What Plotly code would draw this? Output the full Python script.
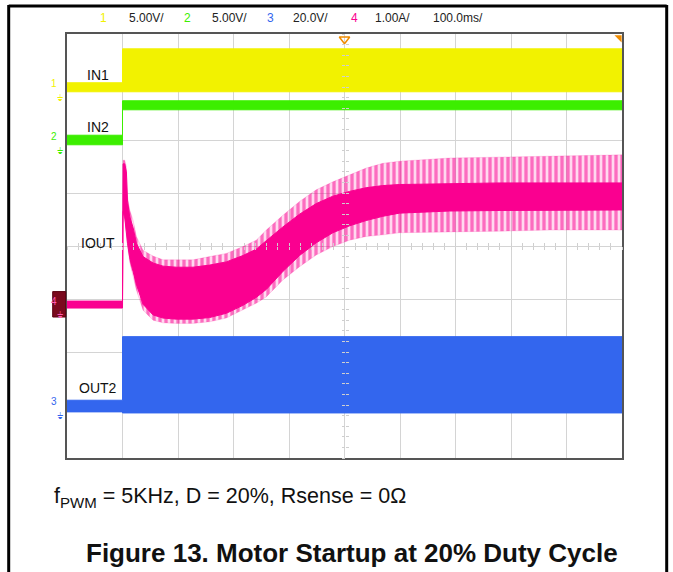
import plotly.graph_objects as go

# scope capture: x in ms (100 ms/div, 10 div), y in screen divisions (8 div)
t_step = [0, 100, 100, 1000]

in1_hi = [3.08, 3.08, 3.72, 3.72]
in1_lo = [2.91, 2.91, 2.91, 2.91]
in2_hi = [2.09, 2.09, 2.74, 2.74]
in2_lo = [1.91, 1.91, 2.57, 2.57]
out2_hi = [-2.91, -2.91, -1.71, -1.71]
out2_lo = [-3.13, -3.13, -3.15, -3.15]

t_iout = [0, 100, 101, 104, 107, 109, 113, 119, 125, 137, 155, 173, 197, 227, 257,
          287, 317, 341, 359, 389, 419, 449, 479, 509, 539, 569, 599, 689, 780, 870, 1000]
# ripple peaks (spiky envelope)
iout_peak_hi = [-1.04, -1.04, 1.62, 1.62, 1.50, 0.93, 0.68, 0.49, 0.18, -0.08, -0.19, -0.26,
                -0.26, -0.26, -0.20, -0.14, -0.01, 0.11, 0.30, 0.58, 0.84, 1.06, 1.21, 1.34,
                1.47, 1.56, 1.60, 1.66, 1.68, 1.70, 1.72]
iout_peak_lo = [-1.17, -1.17, 0.60, 0.50, 0.19, 0.00, -0.30, -0.57, -0.83, -1.21, -1.40, -1.45,
                -1.46, -1.46, -1.43, -1.36, -1.21, -1.08, -0.96, -0.64, -0.39, -0.17, -0.01,
                0.11, 0.18, 0.21, 0.25, 0.26, 0.28, 0.30, 0.30]
# solid body of the current trace
iout_body_hi = [-1.04, -1.04, 1.55, 1.55, 1.40, 0.85, 0.55, 0.35, 0.05, -0.20, -0.32, -0.38,
                -0.40, -0.40, -0.36, -0.30, -0.18, -0.06, 0.10, 0.36, 0.60, 0.80, 0.94, 1.03,
                1.10, 1.14, 1.16, 1.18, 1.19, 1.19, 1.19]
iout_body_lo = [-1.17, -1.17, 0.65, 0.55, 0.25, 0.05, -0.22, -0.48, -0.72, -1.10, -1.30, -1.36,
                -1.38, -1.38, -1.35, -1.27, -1.12, -0.97, -0.82, -0.48, -0.18, 0.06, 0.25, 0.38,
                0.48, 0.56, 0.62, 0.66, 0.67, 0.68, 0.68]

channels = ["1", "2", "3", "4"]
channel_offsets = [3.0, 2.0, -3.0, -1.1]
channel_scales = ["5.00V/", "5.00V/", "20.0V/", "1.00A/"]
timebase = "100.0ms/"

YELLOW = "#F2F200"
GREEN = "#3CEE00"
BLUE = "#3366EE"
PINK = "#FA0090"
colors = [YELLOW, GREEN, BLUE, PINK]

W, H = 673, 572
L, R, T, B = 67.3, 622.3, 34, 458


def px(x):
    return (x - L) / (R - L)


def py(y):
    return (B - y) / (B - T)


def band(t, hi, lo, color, **kw):
    return go.Scatter(
        x=t + t[::-1],
        y=hi + lo[::-1],
        mode="lines",
        fill="toself",
        fillcolor=color,
        line=dict(color=color, width=1),
        hoverinfo="skip",
        showlegend=False,
        **kw,
    )


fig = go.Figure()
fig.add_trace(band(t_step, in1_hi, in1_lo, YELLOW))
fig.add_trace(band(t_step, in2_hi, in2_lo, GREEN))
fig.add_trace(band(t_step, out2_hi, out2_lo, BLUE))
fig.add_trace(
    go.Scatter(
        x=t_iout + t_iout[::-1],
        y=iout_peak_hi + iout_peak_lo[::-1],
        mode="lines",
        fill="toself",
        fillcolor="rgba(255,255,255,0)",
        fillpattern=dict(shape="|", fgcolor=PINK, bgcolor="rgba(250,0,144,0.15)",
                         size=6, solidity=0.55),
        line=dict(color="rgba(250,0,144,0.3)", width=0.5),
        hoverinfo="skip",
        showlegend=False,
    )
)
fig.add_trace(band(t_iout, iout_body_hi, iout_body_lo, PINK))

# trigger markers
fig.add_trace(go.Scatter(x=[500], y=[3.9], mode="markers", cliponaxis=False,
                         marker=dict(symbol="triangle-down-open", size=9, color="#F08C00",
                                     line=dict(width=1.5)),
                         hoverinfo="skip", showlegend=False))
fig.add_trace(go.Scatter(x=[995], y=[3.93], mode="markers", cliponaxis=False,
                         marker=dict(symbol="triangle-ne", size=8, color="#F08C00"),
                         hoverinfo="skip", showlegend=False))

# channel ground arrows on left edge
fig.add_trace(go.Scatter(x=[-4] * 4, y=channel_offsets, mode="markers", cliponaxis=False,
                         marker=dict(symbol="triangle-right", size=7, color=colors),
                         hoverinfo="skip", showlegend=False))

# helper traces for the centre-line tick axes
for xa, ya in [("x2", "y"), ("x3", "y"), ("x", "y2"), ("x", "y3")]:
    fig.add_trace(go.Scatter(x=[None], y=[None], xaxis=xa, yaxis=ya, showlegend=False))

grid = "#D4D4D4"
fig.update_layout(
    width=W,
    height=H,
    autosize=False,
    margin=dict(l=L, r=W - R, t=T, b=H - B, pad=0),
    paper_bgcolor="white",
    plot_bgcolor="white",
    font=dict(family="Arial, Liberation Sans, sans-serif", color="#222"),
    xaxis=dict(range=[0, 1000], dtick=100, showgrid=True, gridcolor=grid, gridwidth=1,
               zeroline=False, showticklabels=False, ticks="", showline=True,
               linecolor="#555", linewidth=2, mirror=True, fixedrange=True),
    yaxis=dict(range=[-4, 4], dtick=1, showgrid=True, gridcolor=grid, gridwidth=1,
               zeroline=False, showticklabels=False, ticks="", showline=True,
               linecolor="#555", linewidth=2, mirror=True, fixedrange=True),
)
for name, side in [("xaxis2", "inside"), ("xaxis3", "outside")]:
    fig.update_layout({name: dict(overlaying="x", anchor="free", position=0.5, range=[0, 1000],
                                  dtick=20, ticks=side, ticklen=3, tickcolor="#CFCFCF",
                                  showgrid=False, zeroline=False, showline=False,
                                  showticklabels=False, fixedrange=True)})
for name, side in [("yaxis2", "inside"), ("yaxis3", "outside")]:
    fig.update_layout({name: dict(overlaying="y", anchor="free", position=0.5, range=[-4, 4],
                                  dtick=0.2, ticks=side, ticklen=3, tickcolor="#CFCFCF",
                                  showgrid=False, zeroline=False, showline=False,
                                  showticklabels=False, fixedrange=True)})

# channel labels inside the screen
label_pos = {"IN1": 3.23, "IN2": 2.25, "IOUT": 0.06, "OUT2": -2.68}
for name, yv in label_pos.items():
    fig.add_annotation(x=px(98), xref="paper", y=yv, yref="y", text=name, showarrow=False,
                       font=dict(size=14, color="#111"), xanchor="center", yanchor="middle")

# channel numbers beside the ground arrows
for ch, yv, col in zip(channels, channel_offsets, colors):
    if ch == "4":
        fig.add_shape(type="rect", xref="paper", yref="y", x0=px(53), x1=px(66),
                      y0=yv - 0.24, y1=yv + 0.24, fillcolor="#7A0A1E",
                      line=dict(color="#5A0010", width=1), layer="above")
        col = "#FF5CB0"
    fig.add_annotation(x=px(59), xref="paper", y=yv + 0.06, yref="y", text=ch,
                       showarrow=False, font=dict(size=10, color=col),
                       xanchor="right", yanchor="middle")
    fig.add_annotation(x=px(60), xref="paper", y=yv - 0.2, yref="y", text="⏚",
                       showarrow=False, font=dict(size=9, color=col),
                       xanchor="center", yanchor="middle")

# header with channel scales
header_items = [
    ("1", 104, YELLOW), (channel_scales[0], 147, "#222"),
    ("2", 188, GREEN), (channel_scales[1], 230, "#222"),
    ("3", 271, BLUE), (channel_scales[2], 311, "#222"),
    ("4", 355, PINK), (channel_scales[3], 393, "#222"),
    (timebase, 458, "#222"),
]
for text, xp, col in header_items:
    fig.add_annotation(x=px(xp), xref="paper", y=py(18), yref="paper", text=text,
                       showarrow=False, font=dict(size=12, color=col),
                       xanchor="center", yanchor="middle")

# surrounding table frame
frame = dict(color="black", width=3)
fig.add_shape(type="line", xref="paper", yref="paper", x0=px(9), x1=px(9), y0=py(5), y1=py(H),
              line=frame)
fig.add_shape(type="line", xref="paper", yref="paper", x0=px(667), x1=px(667), y0=py(5),
              y1=py(H), line=frame)
fig.add_shape(type="line", xref="paper", yref="paper", x0=px(9), x1=px(667), y0=py(6),
              y1=py(6), line=frame)

fig.add_annotation(x=px(52), xref="paper", y=py(497), yref="paper",
                   text="f<sub>PWM</sub> = 5KHz, D = 20%, Rsense = 0Ω", showarrow=False,
                   font=dict(size=21.5, color="#111"), xanchor="left", yanchor="middle")
fig.add_annotation(x=px(352), xref="paper", y=py(553), yref="paper",
                   text="<b>Figure 13. Motor Startup at 20% Duty Cycle</b>", showarrow=False,
                   font=dict(size=26, color="#111"), xanchor="center", yanchor="middle")

fig.write_html("out.html", config={"displayModeBar": False},
               post_script="document.body.style.margin='0';")
